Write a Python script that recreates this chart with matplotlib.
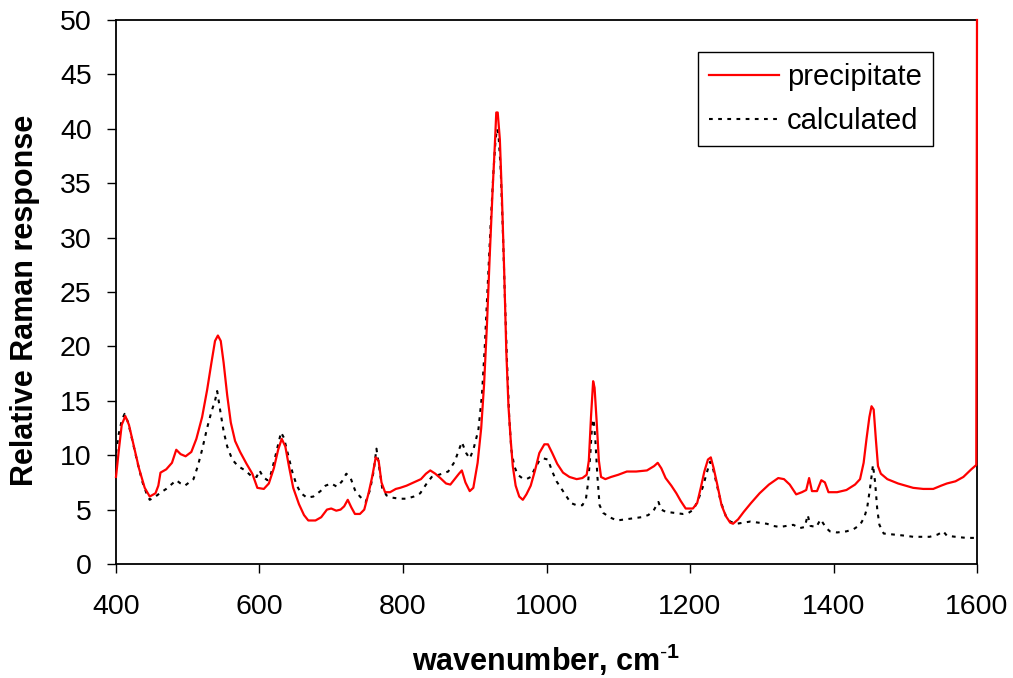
import numpy as np
import matplotlib

matplotlib.use('agg')
import matplotlib.pyplot as plt

# Raman spectra (wavenumber in cm-1)
precip_x = [400, 404, 408, 413, 418, 425, 432, 440, 447, 455, 459, 462, 470,
            478, 484, 490, 497, 505, 512, 520, 527, 533, 538, 542, 546, 550,
            555, 560, 566, 573, 582, 590, 597, 606, 613, 620, 626, 631, 636,
            641, 647, 655, 662, 668, 678, 686, 694, 700, 707, 713, 718, 723,
            728, 733, 740, 746, 752, 757, 762, 766, 770, 775, 782, 790, 796,
            805, 815, 825, 832, 838, 845, 852, 860, 866, 872, 878, 882, 887,
            893, 898, 904, 909, 913, 917, 921, 925, 928, 930, 932, 935, 938,
            941, 944, 947, 950, 953, 957, 962, 967, 972, 978, 984, 990, 997,
            1002, 1008, 1015, 1023, 1032, 1042, 1050, 1056, 1059, 1062, 1065,
            1067, 1070, 1073, 1076, 1082, 1090, 1100, 1112, 1125, 1140, 1150,
            1155, 1160, 1166, 1174, 1181, 1187, 1194, 1204, 1210, 1215, 1220,
            1225, 1229, 1233, 1238, 1244, 1250, 1256, 1260, 1267, 1275, 1285,
            1297, 1310, 1323, 1331, 1339, 1348, 1356, 1362, 1366, 1370, 1377,
            1383, 1388, 1393, 1405, 1418, 1430, 1437, 1442, 1446, 1450, 1453,
            1456, 1459, 1462, 1466, 1475, 1490, 1511, 1525, 1539, 1550, 1558,
            1570, 1581, 1592, 1599, 1600]
precip_y = [8.0, 10.5, 12.8, 13.6, 12.8, 10.8, 8.8, 7.0, 6.2, 6.5, 7.2, 8.4,
            8.7, 9.3, 10.5, 10.1, 9.9, 10.3, 11.5, 13.5, 16.0, 18.5, 20.5,
            21.0, 20.5, 18.5, 15.5, 13.0, 11.3, 10.3, 9.2, 8.3, 7.0, 6.9, 7.4,
            8.8, 10.5, 11.5, 10.8, 9.0, 7.0, 5.5, 4.5, 4.0, 4.0, 4.3, 5.0,
            5.1, 4.9, 5.0, 5.3, 5.9, 5.2, 4.6, 4.6, 5.0, 6.5, 8.0, 9.8, 9.5,
            7.5, 6.6, 6.6, 6.9, 7.0, 7.2, 7.5, 7.8, 8.3, 8.6, 8.3, 7.9, 7.4,
            7.3, 7.8, 8.3, 8.6, 7.5, 6.7, 7.0, 9.3, 12.5, 16.5, 22.0, 28.5,
            34.5, 38.5, 41.5, 41.5, 39.0, 33.5, 27.0, 19.5, 14.5, 11.5, 9.0,
            7.2, 6.2, 5.9, 6.4, 7.2, 8.6, 10.2, 11.0, 11.0, 10.2, 9.2, 8.4,
            8.0, 7.8, 7.9, 8.2, 9.5, 13.5, 16.8, 16.2, 13.0, 9.5, 8.0, 7.8,
            8.0, 8.2, 8.5, 8.5, 8.6, 9.0, 9.3, 8.8, 7.9, 7.2, 6.5, 5.8, 5.1,
            5.1, 5.6, 7.0, 8.5, 9.6, 9.8, 8.8, 7.3, 5.4, 4.4, 3.8, 3.7, 4.1,
            4.8, 5.6, 6.5, 7.3, 7.9, 7.8, 7.3, 6.4, 6.6, 6.8, 7.9, 6.7, 6.7,
            7.7, 7.5, 6.6, 6.6, 6.8, 7.3, 7.8, 9.3, 11.5, 13.5, 14.5, 14.2,
            11.5, 9.0, 8.3, 7.8, 7.4, 7.0, 6.9, 6.9, 7.2, 7.4, 7.6, 8.0, 8.7,
            9.1, 50.0]

calc_x = [400, 404, 408, 412, 417, 423, 430, 437, 443, 447, 455, 463, 470,
          477, 484, 490, 496, 502, 508, 514, 520, 527, 533, 538, 541, 545,
          550, 555, 562, 570, 580, 590, 596, 600, 605, 611, 616, 621, 626,
          630, 634, 640, 646, 652, 658, 666, 675, 685, 692, 700, 708, 715,
          721, 727, 733, 740, 748, 754, 759, 763, 767, 771, 777, 785, 795,
          805, 815, 824, 832, 840, 850, 863, 872, 878, 882, 888, 893, 898,
          905, 910, 914, 918, 922, 926, 929, 931, 933, 936, 939, 942, 945,
          948, 951, 955, 960, 966, 972, 978, 984, 990, 996, 1002, 1008, 1014,
          1020, 1027, 1034, 1042, 1050, 1055, 1058, 1061, 1064, 1066, 1068,
          1071, 1074, 1079, 1088, 1098, 1110, 1121, 1132, 1142, 1150, 1156,
          1160, 1166, 1178, 1190, 1198, 1205, 1212, 1218, 1223, 1228, 1232,
          1237, 1243, 1250, 1256, 1265, 1275, 1284, 1295, 1307, 1316, 1325,
          1335, 1344, 1353, 1360, 1364, 1368, 1376, 1382, 1386, 1390, 1395,
          1405, 1418, 1428, 1437, 1443, 1447, 1451, 1455, 1458, 1461, 1464,
          1470, 1485, 1500, 1511, 1522, 1534, 1545, 1553, 1558, 1570, 1585,
          1600]
calc_y = [10.2, 12.0, 13.2, 13.8, 13.0, 11.3, 9.3, 7.5, 6.4, 5.9, 6.2, 6.6,
          6.9, 7.3, 7.7, 7.4, 7.2, 7.5, 7.8, 9.0, 10.5, 12.5, 14.0, 15.0,
          15.9, 14.2, 12.2, 10.8, 9.6, 9.0, 8.6, 8.0, 8.0, 8.6, 8.0, 7.7, 8.3,
          9.6, 11.0, 12.1, 11.6, 10.0, 8.4, 7.2, 6.5, 6.1, 6.2, 6.7, 7.2,
          7.4, 7.1, 7.6, 8.3, 7.9, 6.8, 6.2, 5.7, 6.8, 8.5, 10.6, 8.8, 7.0,
          6.3, 6.1, 6.0, 6.0, 6.2, 6.5, 7.3, 8.0, 8.2, 8.5, 9.4, 10.5, 11.2,
          10.2, 9.7, 10.5, 12.3, 15.5, 20.0, 25.5, 31.0, 36.0, 39.0, 40.0,
          39.5, 36.5, 31.0, 24.5, 18.5, 13.5, 10.5, 9.0, 8.2, 7.9, 7.8, 8.0,
          8.8, 9.5, 9.7, 9.6, 8.5, 7.6, 7.0, 6.3, 5.6, 5.4, 5.4, 6.0, 7.5,
          10.0, 13.3, 13.0, 11.5, 8.0, 5.4, 4.7, 4.3, 4.0, 4.1, 4.2, 4.3,
          4.5, 5.0, 5.7, 5.0, 4.8, 4.7, 4.6, 4.7, 5.0, 6.0, 7.1, 8.3, 9.4,
          8.8, 7.4, 5.7, 4.4, 3.9, 3.7, 3.8, 3.9, 3.8, 3.7, 3.5, 3.4, 3.5,
          3.6, 3.3, 3.4, 4.5, 3.5, 3.4, 4.1, 3.7, 3.3, 3.0, 2.9, 3.0, 3.2,
          3.6, 4.3, 5.2, 7.0, 9.1, 7.5, 5.0, 3.6, 2.8, 2.7, 2.6, 2.5, 2.5,
          2.5, 2.7, 3.0, 2.6, 2.5, 2.4, 2.4]

x_ticks = [400, 600, 800, 1000, 1200, 1400, 1600]
y_ticks = np.arange(0, 51, 5)

plt.rcParams['font.family'] = ['Liberation Sans', 'DejaVu Sans']
plt.rcParams['mathtext.fontset'] = 'custom'
plt.rcParams['mathtext.rm'] = 'Liberation Sans'
plt.rcParams['mathtext.bf'] = 'Liberation Sans:bold'

fig = plt.figure(figsize=(10.13, 6.78), dpi=100)
ax = fig.add_axes([116 / 1013, 1 - 564 / 678, 861 / 1013, 544 / 678])

# red trace ends in a spike at 1600, drawn over the right spine
ax.plot(precip_x, precip_y, color='#ff0000', lw=1.6, label='precipitate',
        zorder=3, clip_on=False)
ax.plot(calc_x, calc_y, color='black', lw=1.5, linestyle=(0, (1.8, 2.6)),
        label='calculated')

ax.set_xlim(400, 1600)
ax.set_ylim(0, 50)
ax.set_xticks(x_ticks)
ax.set_yticks(y_ticks)
ax.tick_params(direction='out', length=6.5, width=1, labelsize=20.5)
ax.tick_params(axis='x', pad=15)
ax.tick_params(axis='y', pad=11)
for spine in ax.spines.values():
    spine.set_linewidth(1.3)

ax.set_xlabel('wavenumber, cm$^{\\mathbf{\\text{-}1}}$', fontsize=22,
              fontweight='bold', labelpad=16)
ax.set_ylabel('Relative Raman response', fontsize=22, fontweight='bold',
              labelpad=14)
ax.yaxis.label.set_y(0.485)

leg = ax.legend(loc='upper right', bbox_to_anchor=(933 / 1013, 1 - 52 / 678),
                bbox_transform=fig.transFigure, borderaxespad=0,
                fontsize=21, fancybox=False, framealpha=1, edgecolor='black',
                handlelength=2.4, handletextpad=0.27, labelspacing=0.54,
                borderpad=0.38)
leg.get_frame().set_linewidth(1.0)

fig.savefig('out.png', dpi=100)
